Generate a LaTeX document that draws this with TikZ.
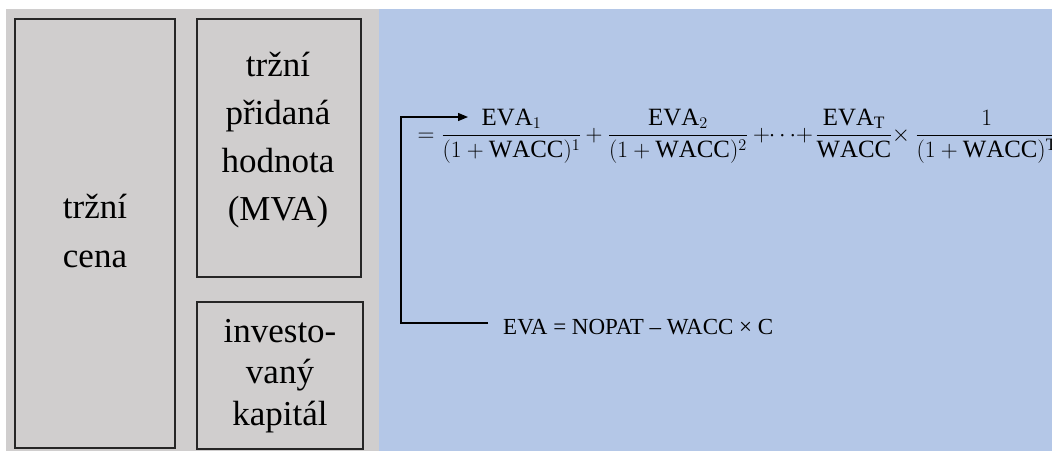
\documentclass[tikz,border=0pt]{standalone}
\usepackage{graphicx}
\usepackage{fontspec}
\setmainfont{Liberation Serif}
\usetikzlibrary{arrows.meta}
\definecolor{panelgray}{HTML}{D0CECE}
\definecolor{panelblue}{HTML}{B4C7E7}
\newcommand{\fmlbox}[1]{\scalebox{1.13}{#1}}
\begin{document}
\begin{tikzpicture}[x=1pt,y=-1pt,
  boxst/.style={draw=black!85,line width=1.2pt,fill=panelgray,inner sep=0pt},
  lbl/.style={font=\fontsize{35}{49}\selectfont,align=center,inner sep=0pt,anchor=base},
  fml/.style={font=\fontsize{22}{26}\selectfont,inner sep=0pt,anchor=base},
  conn/.style={line width=1.3pt,-{Triangle[length=10pt,width=8pt]}}]
\useasboundingbox (0,0) rectangle (1052,451);
\fill[white] (0,0) rectangle (1052,451);
\fill[panelgray] (6,9) rectangle (379,451);
\fill[panelblue] (379,9) rectangle (1052,451);
% boxes
\node[boxst,minimum width=160pt,minimum height=429pt] (price) at (95,233.5) {};
\node[boxst,minimum width=164pt,minimum height=258pt] (mva) at (279,148) {};
\node[boxst,minimum width=166pt,minimum height=147pt] (cap) at (280,375.5) {};
% labels (base anchor = baseline of the last line)
\node[lbl] (priceT) at (95,267) {tržní\\cena};
\node[lbl,font=\fontsize{35}{47.7}\selectfont] (mvaT) at (278,220) {tržní\\přidaná\\hodnota\\(MVA)};
\node[lbl,font=\fontsize{35}{41.5}\selectfont] (capT) at (280,425) {investo-\\vaný\\kapitál};
% formula
\begin{scope}
\clip (379,9) rectangle (1052,451);
\node[fml] (eq) at (426,141) {\fmlbox{$=$}};
\node[fml] (f1) at (511.5,141) {\fmlbox{$\displaystyle\frac{\mathrm{EVA}_1}{(1+\mathrm{WACC})^1}$}};
\node[fml] (p1) at (594,141) {\fmlbox{$+$}};
\node[fml] (f2) at (678,141) {\fmlbox{$\displaystyle\frac{\mathrm{EVA}_2}{(1+\mathrm{WACC})^2}$}};
\node[fml] (p2) at (761.5,141) {\fmlbox{$+$}};
\node[fml] (dots) at (782.5,141) {\fmlbox{$\cdots$}};
\node[fml] (p3) at (804.5,141) {\fmlbox{$+$}};
\node[fml] (f3) at (854,141) {\fmlbox{$\displaystyle\frac{\mathrm{EVA}_\mathrm{T}}{\mathrm{WACC}}$}};
\node[fml] (tm) at (901,141) {\fmlbox{$\times$}};
\node[fml,anchor=base west] (f4) at (915,141) {\fmlbox{$\displaystyle\frac{1}{(1+\mathrm{WACC})^\mathrm{T}}$}};
\end{scope}
\node[font=\fontsize{23}{28}\selectfont,inner sep=0pt,anchor=base west] (eva) at (503,334) {EVA = NOPAT – WACC × C};
% connector
\coordinate (s) at (488,323);
\coordinate (t) at (468,117);
\draw[conn] (s) -- ++(-87,0) |- (t);
\end{tikzpicture}
\end{document}
